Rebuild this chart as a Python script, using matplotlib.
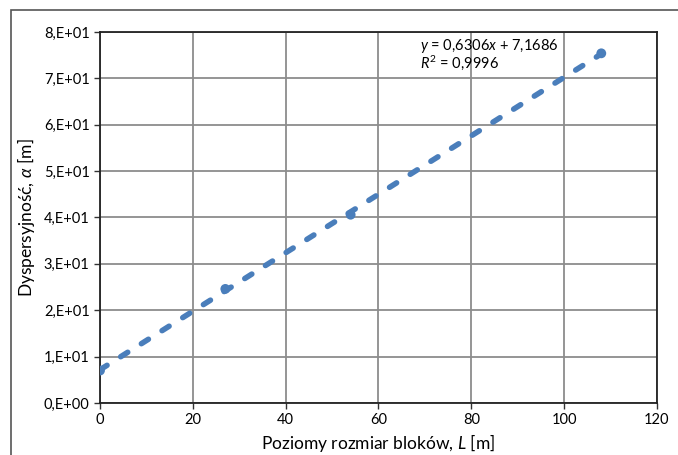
import numpy as np
import matplotlib.pyplot as plt
from matplotlib.patches import Rectangle

plt.rcParams['font.family'] = ['Lato', 'DejaVu Sans']
plt.rcParams['mathtext.fontset'] = 'custom'
plt.rcParams['mathtext.rm'] = 'Lato'
plt.rcParams['mathtext.it'] = 'Lato:italic'

# dane
x_data = [0, 27, 54, 108]
y_data = [7.0, 24.6, 40.6, 75.4]
slope = 0.6306
intercept = 7.1686
r2_text = '0,9996'

x_ticks = [0, 20, 40, 60, 80, 100, 120]
y_ticks = [0, 10, 20, 30, 40, 50, 60, 70, 80]
y_tick_labels = ['0,E+00', '1,E+01', '2,E+01', '3,E+01', '4,E+01',
                 '5,E+01', '6,E+01', '7,E+01', '8,E+01']

blue = '#4A7EBB'

fig = plt.figure(figsize=(6.78, 4.55), dpi=100)
ax = fig.add_axes([0.1475, 0.1143, 0.8215, 0.8154])

# ramka wykresu (jak w Excelu)
fig.patches.append(Rectangle((11 / 678, -0.1), 1.0, 0.1 + (455 - 10) / 455,
                             transform=fig.transFigure, fill=False,
                             edgecolor='#555555', linewidth=1.2))

ax.scatter(x_data, y_data, s=50, color=blue, zorder=3, edgecolors='none')

# linia trendu
xt = np.array([min(x_data), max(x_data)])
yt = slope * xt + intercept
ax.plot(xt, yt, color=blue, linewidth=4.0, dashes=(1.5, 2.9),
        dash_capstyle='round', solid_capstyle='round', zorder=4)

ax.text(69.0, 79.0,
        '$y$ = 0,6306$x$ + 7,1686\n$R^2$ = ' + r2_text,
        fontsize=10.5, va='top', ha='left', linespacing=0.95, zorder=5)

ax.set_xlim(0, 120)
ax.set_ylim(0, 80)
ax.set_xticks(x_ticks)
ax.set_yticks(y_ticks)
ax.set_yticklabels(y_tick_labels)
ax.tick_params(direction='out', length=4, width=1, labelsize=10.5, color='#333333')
ax.grid(True, color='#8C8C8C', linewidth=1.3)
ax.set_axisbelow(True)
for sp in ax.spines.values():
    sp.set_color('#222222')
    sp.set_linewidth(1.3)

ax.set_xlabel('Poziomy rozmiar bloków, $L$ [m]', fontsize=12.5, labelpad=3)
ax.set_ylabel('Dyspersyjność, $\\alpha$ [m]', fontsize=12.5, labelpad=5)

plt.savefig('out.png', dpi=100)
